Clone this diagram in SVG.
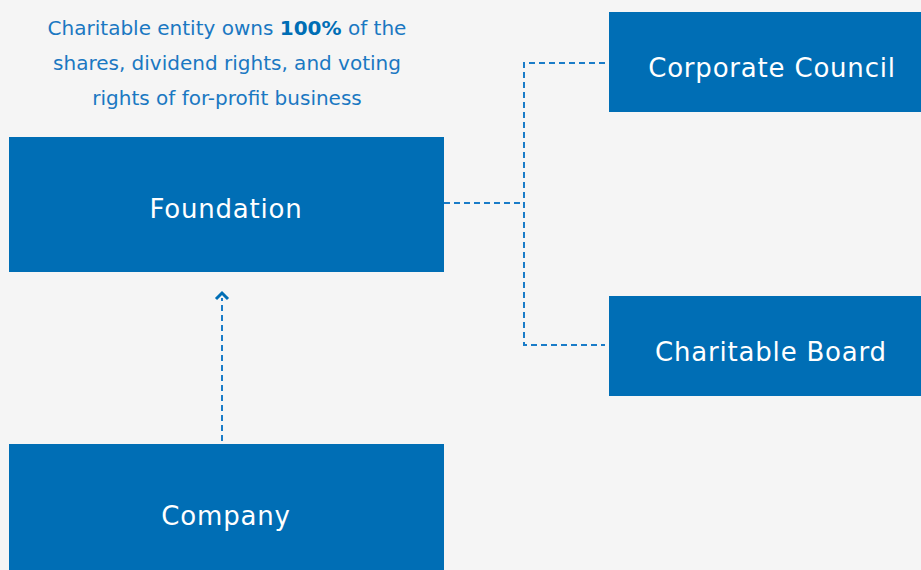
<svg xmlns="http://www.w3.org/2000/svg" width="921" height="570" viewBox="0 0 921 570">
<defs>
<style>
.box{fill:#006eb5}
.lbl{font-family:"DejaVu Sans","Open Sans",sans-serif;font-size:26px;letter-spacing:0.8px;fill:#ffffff;text-anchor:middle;dominant-baseline:central}
.note{font-family:"DejaVu Sans","Open Sans",sans-serif;font-size:20px;fill:#1a78c2;text-anchor:middle}
.conn{fill:none;stroke:#1a7cc8;stroke-width:2;stroke-dasharray:6 4}
</style>
</defs>
<rect width="921" height="570" fill="#f5f5f5"/>
<g id="note">
<text class="note" x="227" y="35">Charitable entity owns <tspan font-weight="bold" fill="#006eb5">100%</tspan> of the</text>
<text class="note" x="227" y="70">shares, dividend rights, and voting</text>
<text class="note" x="227" y="105">rights of for-profit business</text>
</g>
<g id="connectors">
<path class="conn" d="M444,203 H524"/>
<path class="conn" d="M605,63 H524 V345 H605"/>
<path class="conn" d="M222,441 V298"/>
<path d="M216,299 L222,293 L228,299" fill="none" stroke="#006eb5" stroke-width="3"/>
</g>
<g id="foundation"><rect class="box" x="9" y="137" width="435" height="135"/><text class="lbl" x="226" y="209">Foundation</text></g>
<g id="corporate-council"><rect class="box" x="609" y="12" width="312" height="100"/><text class="lbl" x="772" y="68">Corporate Council</text></g>
<g id="charitable-board"><rect class="box" x="609" y="296" width="312" height="100"/><text class="lbl" x="771" y="352">Charitable Board</text></g>
<g id="company"><rect class="box" x="9" y="444" width="435" height="126"/><text class="lbl" x="226" y="516">Company</text></g>
</svg>
